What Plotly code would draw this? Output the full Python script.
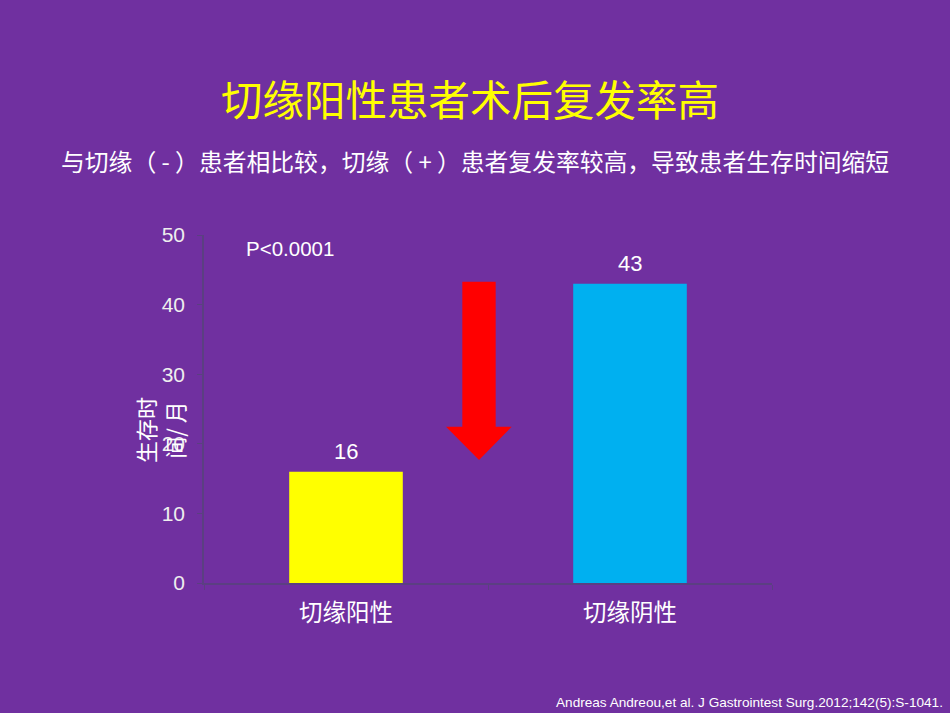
import plotly.graph_objects as go

categories = ["切缘阳性", "切缘阴性"]
survival_months = [16, 43]
bar_colors = ["#FFFF00", "#00B0F0"]
y_ticks = [0, 10, 20, 30, 40, 50]

title_text = "切缘阳性患者术后复发率高"
subtitle_text = "与切缘（ - ）患者相比较，切缘（ + ）患者复发率较高，导致患者生存时间缩短"
p_text = "P<0.0001"
y_title = "生存时<br>间/ 月"
ref_text = "Andreas Andreou,et al. J Gastrointest Surg.2012;142(5):S-1041."

BG = "#7030A0"
AXIS = "#5B3F82"
CJK = "Noto Sans CJK SC"
LAT = "Liberation Sans, Arial"

fig = go.Figure()
fig.add_trace(go.Bar(
    x=categories, y=survival_months,
    marker=dict(color=bar_colors, line=dict(width=0)),
    width=0.4,
))

annotations = [
    dict(text=title_text, x=0.469, y=1.3937, xref="paper", yref="paper",
         xanchor="center", yanchor="middle", showarrow=False,
         font=dict(family=CJK, size=41.5, color="#FFFF00")),
    dict(text=subtitle_text, x=0.477, y=1.2155, xref="paper", yref="paper",
         xanchor="center", yanchor="middle", showarrow=False,
         font=dict(family=CJK, size=23.8, color="#FFFFFF")),
    dict(text=p_text, x=0.1514, y=0.9626, xref="paper", yref="paper",
         xanchor="center", yanchor="middle", showarrow=False,
         font=dict(family=LAT, size=20.5, color="#FFFFFF")),
    dict(text=y_title, x=-0.0775, y=0.4397, xref="paper", yref="paper",
         xanchor="center", yanchor="middle", showarrow=False, textangle=-90,
         font=dict(family=CJK, size=22, color="#FFFFFF")),
    dict(text=ref_text, x=1.3046, y=-0.342, xref="paper", yref="paper",
         xanchor="right", yanchor="middle", showarrow=False,
         font=dict(family=LAT, size=13.6, color="#FFFFFF")),
]
for c, v in zip(categories, survival_months):
    annotations.append(dict(text=str(v), x=c, y=v, xref="x", yref="y",
                            xanchor="center", yanchor="bottom", yshift=6,
                            showarrow=False,
                            font=dict(family=LAT, size=22, color="#FFFFFF")))

fig.update_layout(
    width=950, height=713,
    margin=dict(l=204, r=178, t=235, b=130),
    paper_bgcolor=BG, plot_bgcolor=BG,
    showlegend=False,
    xaxis=dict(
        type="category",
        tickson="boundaries",
        ticks="outside", ticklen=5, tickcolor=AXIS,
        showline=True, linecolor=AXIS, linewidth=1.5,
        showgrid=False,
        tickfont=dict(family=CJK, size=23.5, color="#FFFFFF"),
        ticklabelstandoff=8,
    ),
    yaxis=dict(
        range=[0, 50],
        tickvals=y_ticks,
        ticks="outside", ticklen=5, tickcolor=AXIS,
        showline=True, linecolor=AXIS, linewidth=1.5,
        showgrid=False, zeroline=False,
        tickfont=dict(family=LAT, size=21, color="#EEEEEE"),
        ticklabelstandoff=8,
    ),
    annotations=annotations,
    shapes=[
        dict(type="path", xref="paper", yref="paper",
             path="M 0.4548,0.8658 L 0.5135,0.8658 L 0.5135,0.4491 L 0.5417,0.4491 "
                  "L 0.4842,0.3534 L 0.4261,0.4491 L 0.4548,0.4491 Z",
             fillcolor="#FF0000", line=dict(width=0)),
    ],
)

fig.write_html("out.html")
